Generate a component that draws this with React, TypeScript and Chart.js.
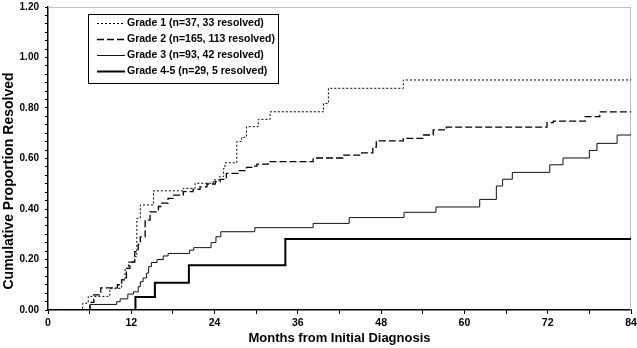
import React, { useEffect, useRef } from 'react';
import { Chart, registerables } from 'chart.js';

Chart.register(...registerables);

// ---- Data ----
const SERIES_LABELS = [
  'Grade 1 (n=37, 33 resolved)',
  'Grade 2 (n=165, 113 resolved)',
  'Grade 3 (n=93, 42 resolved)',
  'Grade 4-5 (n=29, 5 resolved)',
];

const G1_MONTHS = [0, 5.0, 5.8, 8.9, 10.6, 11.1, 11.6, 12.5, 12.8, 13.3, 15.2, 19.5, 21.2, 23.8, 24.7, 25.3, 25.5, 27.2, 27.9, 28.6, 30.3, 32.0, 39.7, 40.4, 51.2, 84];
const G1_VALUES = [0, 0.027, 0.054, 0.086, 0.12, 0.165, 0.19, 0.211, 0.363, 0.416, 0.472, 0.482, 0.502, 0.515, 0.528, 0.561, 0.583, 0.667, 0.684, 0.726, 0.755, 0.785, 0.818, 0.878, 0.911, 0.911];

const G2_MONTHS = [0, 6.05, 6.6, 7.6, 10.0, 10.6, 11.3, 11.8, 12.5, 13.0, 13.3, 14.0, 14.7, 15.9, 16.4, 17.3, 18.0, 19.5, 20.9, 21.9, 22.9, 24.1, 24.8, 25.7, 27.4, 28.6, 29.6, 30.1, 31.7, 38.2, 42.5, 45.2, 46.8, 47.3, 51.2, 54.1, 55.5, 57.4, 71.9, 72.8, 77.4, 79.5, 84];
const G2_VALUES = [0, 0.03, 0.06, 0.088, 0.1, 0.119, 0.165, 0.19, 0.231, 0.26, 0.29, 0.356, 0.389, 0.41, 0.423, 0.442, 0.455, 0.469, 0.478, 0.488, 0.499, 0.508, 0.517, 0.541, 0.552, 0.565, 0.57, 0.578, 0.588, 0.602, 0.613, 0.622, 0.645, 0.67, 0.68, 0.693, 0.713, 0.724, 0.742, 0.748, 0.766, 0.785, 0.785];

const G3_MONTHS = [0, 6.05, 9.9, 10.4, 11.5, 12.3, 13.0, 13.3, 13.7, 14.2, 14.5, 14.9, 15.7, 16.6, 17.3, 20.4, 21.0, 23.5, 24.2, 24.9, 29.8, 38.2, 43.4, 51.3, 55.9, 62.2, 64.6, 65.5, 66.9, 72.3, 74.2, 78.0, 79.1, 82.0, 84];
const G3_VALUES = [0, 0.022, 0.033, 0.044, 0.063, 0.072, 0.092, 0.112, 0.127, 0.146, 0.172, 0.188, 0.2, 0.214, 0.224, 0.237, 0.247, 0.267, 0.29, 0.31, 0.326, 0.343, 0.366, 0.387, 0.408, 0.438, 0.491, 0.518, 0.545, 0.575, 0.602, 0.632, 0.66, 0.693, 0.693];

const G45_MONTHS = [0, 12.6, 15.4, 20.3, 34.2, 84];
const G45_VALUES = [0, 0.051, 0.108, 0.177, 0.281, 0.281];

const X_TICKS = [0, 12, 24, 36, 48, 60, 72, 84];
const X_TICK_LABELS = ['0', '12', '24', '36', '48', '60', '72', '84'];
const Y_TICKS = [0, 0.2, 0.4, 0.6, 0.8, 1.0, 1.2];
const Y_TICK_LABELS = ['0.00', '0.20', '0.40', '0.60', '0.80', '1.00', '1.20'];

const X_TITLE = 'Months from Initial Diagnosis';
const Y_TITLE = 'Cumulative Proportion Resolved';

const FONT = '"Liberation Sans", Arial, sans-serif';

function withMinor(major: number[], parts: number): number[] {
  const out: number[] = [];
  for (let i = 0; i < major.length; i++) {
    out.push(major[i]);
    if (i < major.length - 1) {
      for (let k = 1; k < parts; k++) {
        out.push(major[i] + ((major[i + 1] - major[i]) * k) / parts);
      }
    }
  }
  return out;
}

function labelFor(ticks: number[], labels: string[], v: number): string {
  const i = ticks.findIndex((t) => Math.abs(t - v) < 1e-6);
  return i >= 0 ? labels[i] : '';
}

const toPoints = (xs: number[], ys: number[]) => xs.map((x, i) => ({ x, y: ys[i] }));

const framePlugin = {
  id: 'frameLines',
  beforeDatasetsDraw(chart: any) {
    const { ctx, chartArea } = chart;
    ctx.save();
    ctx.strokeStyle = '#c0c0c0';
    ctx.lineWidth = 1;
    ctx.beginPath();
    ctx.moveTo(chartArea.left, Math.round(chartArea.top) + 0.5);
    ctx.lineTo(chartArea.right, Math.round(chartArea.top) + 0.5);
    ctx.moveTo(Math.round(chartArea.right) - 0.5, chartArea.top);
    ctx.lineTo(Math.round(chartArea.right) - 0.5, chartArea.bottom);
    ctx.stroke();
    ctx.restore();
  },
};

const legendPlugin = {
  id: 'boxLegend',
  afterDraw(chart: any) {
    const { ctx } = chart;
    const left = 88, top = 14, w = 190, h = 69;
    ctx.save();
    ctx.fillStyle = '#fff';
    ctx.fillRect(left, top, w, h);
    ctx.strokeStyle = '#000';
    ctx.lineWidth = 1;
    ctx.setLineDash([]);
    ctx.strokeRect(left + 0.5, top + 0.5, w, h);
    chart.data.datasets.forEach((ds: any, i: number) => {
      const y = 23.5 + i * 16;
      ctx.strokeStyle = ds.borderColor;
      ctx.lineWidth = ds.borderWidth;
      ctx.setLineDash(ds.borderDash || []);
      ctx.beginPath();
      ctx.moveTo(97, y);
      ctx.lineTo(125, y);
      ctx.stroke();
      ctx.setLineDash([]);
      ctx.fillStyle = '#000';
      ctx.font = `bold 10.5px ${FONT}`;
      ctx.textBaseline = 'middle';
      ctx.textAlign = 'left';
      ctx.fillText(ds.label, 127, y);
    });
    ctx.restore();
  },
};

const yTitlePlugin = {
  id: 'yTitle',
  afterDraw(chart: any) {
    const { ctx } = chart;
    ctx.save();
    ctx.translate(9, 181);
    ctx.rotate(-Math.PI / 2);
    ctx.fillStyle = '#000';
    ctx.font = `bold 14px ${FONT}`;
    ctx.textAlign = 'center';
    ctx.textBaseline = 'middle';
    ctx.fillText(Y_TITLE, 0, 0);
    ctx.restore();
  },
};

export default function App() {
  const ref = useRef<HTMLCanvasElement | null>(null);

  useEffect(() => {
    if (!ref.current) return;
    const xAll = withMinor(X_TICKS, 2);
    const yAll = withMinor(Y_TICKS, 6);
    const chart = new Chart(ref.current, {
      type: 'line',
      data: {
        datasets: [
          {
            label: SERIES_LABELS[0],
            data: toPoints(G1_MONTHS, G1_VALUES),
            borderColor: '#000',
            borderWidth: 1,
            borderDash: [2, 2],
            stepped: 'before',
            pointRadius: 0,
            fill: false,
          },
          {
            label: SERIES_LABELS[1],
            data: toPoints(G2_MONTHS, G2_VALUES),
            borderColor: '#000',
            borderWidth: 1.3,
            borderDash: [7, 3],
            stepped: 'before',
            pointRadius: 0,
            fill: false,
          },
          {
            label: SERIES_LABELS[2],
            data: toPoints(G3_MONTHS, G3_VALUES),
            borderColor: '#111',
            borderWidth: 1,
            stepped: 'before',
            pointRadius: 0,
            fill: false,
          },
          {
            label: SERIES_LABELS[3],
            data: toPoints(G45_MONTHS, G45_VALUES),
            borderColor: '#000',
            borderWidth: 2,
            stepped: 'before',
            pointRadius: 0,
            fill: false,
          },
        ],
      } as any,
      options: {
        animation: false,
        responsive: false,
        maintainAspectRatio: false,
        layout: { padding: { top: 7, right: 6, left: 0, bottom: 0 } },
        plugins: { legend: { display: false }, tooltip: { enabled: false } },
        scales: {
          x: {
            type: 'linear',
            min: 0,
            max: 84,
            afterBuildTicks: (scale: any) => {
              scale.ticks = xAll.map((v) => ({ value: v }));
            },
            afterFit: (scale: any) => {
              scale.height = 38;
              scale.paddingRight = 0;
              scale.paddingLeft = 0;
            },
            ticks: {
              autoSkip: false,
              maxRotation: 0,
              padding: 3,
              color: '#000',
              font: { family: FONT, size: 10.5, weight: 'bold' },
              callback: (v: any) => labelFor(X_TICKS, X_TICK_LABELS, Number(v)),
            },
            grid: {
              display: true,
              drawOnChartArea: false,
              drawTicks: true,
              tickLength: 4,
              color: '#000',
              lineWidth: 1,
            },
            border: { display: true, color: '#000', width: 1.5 },
            title: {
              display: true,
              text: X_TITLE,
              color: '#000',
              font: { family: FONT, size: 13, weight: 'bold' },
              padding: { top: 0, bottom: 2 },
            },
          },
          y: {
            type: 'linear',
            min: 0,
            max: 1.2,
            afterBuildTicks: (scale: any) => {
              scale.ticks = yAll.map((v) => ({ value: v }));
            },
            afterFit: (scale: any) => {
              scale.width = 48;
              scale.paddingTop = 0;
              scale.paddingBottom = 0;
            },
            ticks: {
              autoSkip: false,
              padding: 6,
              color: '#000',
              font: { family: FONT, size: 10, weight: 'bold' },
              callback: (v: any) => labelFor(Y_TICKS, Y_TICK_LABELS, Number(v)),
            },
            grid: {
              display: true,
              drawOnChartArea: false,
              drawTicks: true,
              tickLength: 3,
              color: '#000',
              lineWidth: 1,
            },
            border: { display: true, color: '#000', width: 1.5 },
          },
        },
      } as any,
      plugins: [framePlugin, legendPlugin, yTitlePlugin],
    });
    return () => chart.destroy();
  }, []);

  return (
    <div style={{ position: 'absolute', left: 0, top: 0, width: 637, height: 348, background: '#fff' }}>
      <canvas ref={ref} width={637} height={348} style={{ display: 'block' }} />
    </div>
  );
}
